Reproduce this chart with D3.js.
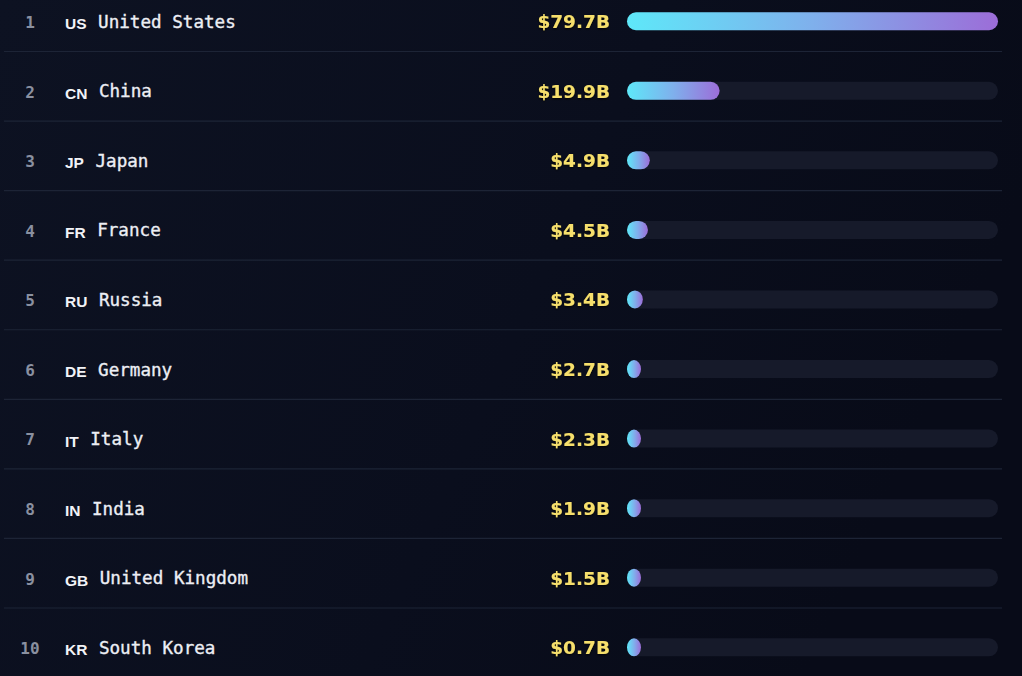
<!DOCTYPE html>
<html><head><meta charset="utf-8">
<script src="https://cdn.jsdelivr.net/npm/d3@7"></script>
<style>
html,body{margin:0;padding:0;background:#0a0d1b;overflow:hidden}
svg{display:block}
</style></head>
<body>
<svg id="chart" width="1022" height="676"></svg>
<script>
const ranks = [1,2,3,4,5,6,7,8,9,10];
const codes = ["US","CN","JP","FR","RU","DE","IT","IN","GB","KR"];
const countries = ["United States","China","Japan","France","Russia","Germany","Italy","India","United Kingdom","South Korea"];
const values = [79.7,19.9,4.9,4.5,3.4,2.7,2.3,1.9,1.5,0.7];
const valueLabels = ["$79.7B","$19.9B","$4.9B","$4.5B","$3.4B","$2.7B","$2.3B","$1.9B","$1.5B","$0.7B"];

const W = 1022, H = 676;
const svg = d3.select("#chart");
const defs = svg.append("defs");

const bg = defs.append("linearGradient").attr("id","bg").attr("x1","0").attr("y1","0").attr("x2","1").attr("y2","0.3");
bg.append("stop").attr("offset","0").attr("stop-color","#0d1222");
bg.append("stop").attr("offset","0.6").attr("stop-color","#0a0e1d");
bg.append("stop").attr("offset","1").attr("stop-color","#080b18");

const grad = defs.append("linearGradient").attr("id","barGrad").attr("x1","0").attr("y1","0").attr("x2","1").attr("y2","0");
grad.append("stop").attr("offset","0").attr("stop-color","#5ee8f9");
grad.append("stop").attr("offset","0.5").attr("stop-color","#7fb0ec");
grad.append("stop").attr("offset","1").attr("stop-color","#9c6dd8");

const glow = defs.append("filter").attr("id","txtShadow").attr("x","-20%").attr("y","-30%").attr("width","140%").attr("height","160%");
glow.append("feDropShadow").attr("dx",0).attr("dy",1).attr("stdDeviation",1).attr("flood-color","#000").attr("flood-opacity",0.9);

svg.append("rect").attr("width",W).attr("height",H).attr("fill","url(#bg)");

const y = d3.scaleBand().domain(countries).range([-18.56, -18.56 + 69.56*countries.length]).paddingInner(0);
const x = d3.scaleLinear().domain([0, d3.max(values)]).range([0, 371]);
const barX = 627, barH = 18, minW = 14;
const centerOff = 39.8;

const data = countries.map((c,i)=>({c, rank:ranks[i], code:codes[i], v:values[i], label:valueLabels[i]}));

const rows = svg.selectAll("g.row").data(data).join("g").attr("class","row")
  .attr("transform", d=>`translate(0,${y(d.c)})`);

rows.filter((d,i)=>i<data.length-1).append("line")
  .attr("x1",4).attr("x2",1002)
  .attr("y1",y.bandwidth()+0.5).attr("y2",y.bandwidth()+0.5)
  .attr("stroke","#1d2436").attr("stroke-width",1.2);

rows.append("text")
  .attr("x",30).attr("y",centerOff+6.8)
  .attr("text-anchor","middle")
  .attr("font-family","'DejaVu Sans Mono', monospace").attr("font-weight","bold")
  .attr("font-size",16).attr("fill","#8a90a0")
  .text(d=>d.rank);

rows.append("text")
  .attr("class","code")
  .attr("x",65).attr("y",centerOff+8)
  .attr("font-family","'Liberation Sans', Arial, sans-serif").attr("font-weight","bold")
  .attr("font-size",15.5).attr("fill","#f2f3f7")
  .text(d=>d.code);

rows.each(function(d){
  const g = d3.select(this);
  const cw = g.select("text.code").node().getComputedTextLength();
  g.append("text")
    .attr("x",65 + cw + 11.5).attr("y",centerOff+6.5)
    .attr("font-family","'DejaVu Sans Mono', monospace")
    .attr("font-size",17.6).attr("fill","#eceef4")
    .attr("stroke","#eceef4").attr("stroke-width",0.35)
    .text(d.c);
});

rows.append("text")
  .attr("x",610).attr("y",centerOff+7)
  .attr("text-anchor","end")
  .attr("font-family","'DejaVu Sans', sans-serif").attr("font-weight","bold")
  .attr("font-size",18.5).attr("fill","#f6df6c")
  .attr("filter","url(#txtShadow)")
  .text(d=>d.label);

rows.append("rect")
  .attr("x",barX).attr("y",centerOff-barH/2)
  .attr("width",x(d3.max(values))).attr("height",barH)
  .attr("rx",barH/2).attr("fill","#161a2a");

rows.append("rect")
  .attr("x",barX).attr("y",centerOff-barH/2)
  .attr("width",d=>Math.max(x(d.v),minW)).attr("height",barH)
  .attr("rx",d=>Math.min(barH/2, Math.max(x(d.v),minW)/2)).attr("ry",barH/2)
  .attr("fill","url(#barGrad)");
</script>
</body></html>
